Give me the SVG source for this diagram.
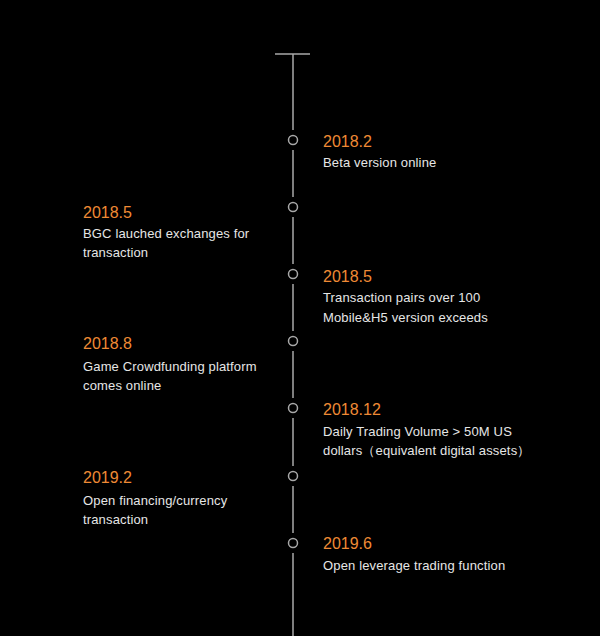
<svg xmlns="http://www.w3.org/2000/svg" width="600" height="636" viewBox="0 0 600 636">
<style>
.ln{stroke:#a8a8a8;stroke-width:1.5;fill:none}
.dot{stroke:#a8a8a8;stroke-width:1.5;fill:none}
.d{font-family:"Liberation Sans",Arial,sans-serif;font-size:16px;fill:#ef8a35}
.t{font-family:"Liberation Sans",Arial,sans-serif;font-size:13px;letter-spacing:0.15px;fill:#e6e6e6}
</style>
<rect width="600" height="636" fill="#000"/>
<g id="connectors">
<line class="ln" x1="275" y1="54" x2="310" y2="54"/>
<line class="ln" x1="293" y1="54" x2="293" y2="130"/>
<line class="ln" x1="293" y1="150" x2="293" y2="197"/>
<line class="ln" x1="293" y1="217" x2="293" y2="264"/>
<line class="ln" x1="293" y1="284" x2="293" y2="331"/>
<line class="ln" x1="293" y1="351" x2="293" y2="398"/>
<line class="ln" x1="293" y1="418" x2="293" y2="466"/>
<line class="ln" x1="293" y1="486" x2="293" y2="533"/>
<line class="ln" x1="293" y1="553" x2="293" y2="636"/>
</g>
<g id="n1"><circle class="dot" cx="293" cy="140" r="4.5"/><text class="d" x="323" y="147">2018.2</text><text class="t" x="323" y="167">Beta version online</text></g>
<g id="n2"><circle class="dot" cx="293" cy="207" r="4.5"/><text class="d" x="83" y="218">2018.5</text><text class="t" x="83" y="238">BGC lauched exchanges for</text><text class="t" x="83" y="257">transaction</text></g>
<g id="n3"><circle class="dot" cx="293" cy="274" r="4.5"/><text class="d" x="323" y="282">2018.5</text><text class="t" x="323" y="302">Transaction pairs over 100</text><text class="t" x="323" y="322">Mobile&amp;H5 version exceeds</text></g>
<g id="n4"><circle class="dot" cx="293" cy="341" r="4.5"/><text class="d" x="83" y="349">2018.8</text><text class="t" x="83" y="371">Game Crowdfunding platform</text><text class="t" x="83" y="390">comes online</text></g>
<g id="n5"><circle class="dot" cx="293" cy="408" r="4.5"/><text class="d" x="323" y="415">2018.12</text><text class="t" x="323" y="436">Daily Trading Volume &gt; 50M US</text><text class="t" x="323" y="455">dollars（equivalent digital assets）</text></g>
<g id="n6"><circle class="dot" cx="293" cy="476" r="4.5"/><text class="d" x="83" y="483">2019.2</text><text class="t" x="83" y="505">Open financing/currency</text><text class="t" x="83" y="524">transaction</text></g>
<g id="n7"><circle class="dot" cx="293" cy="543" r="4.5"/><text class="d" x="323" y="549">2019.6</text><text class="t" x="323" y="570">Open leverage trading function</text></g>
</svg>
